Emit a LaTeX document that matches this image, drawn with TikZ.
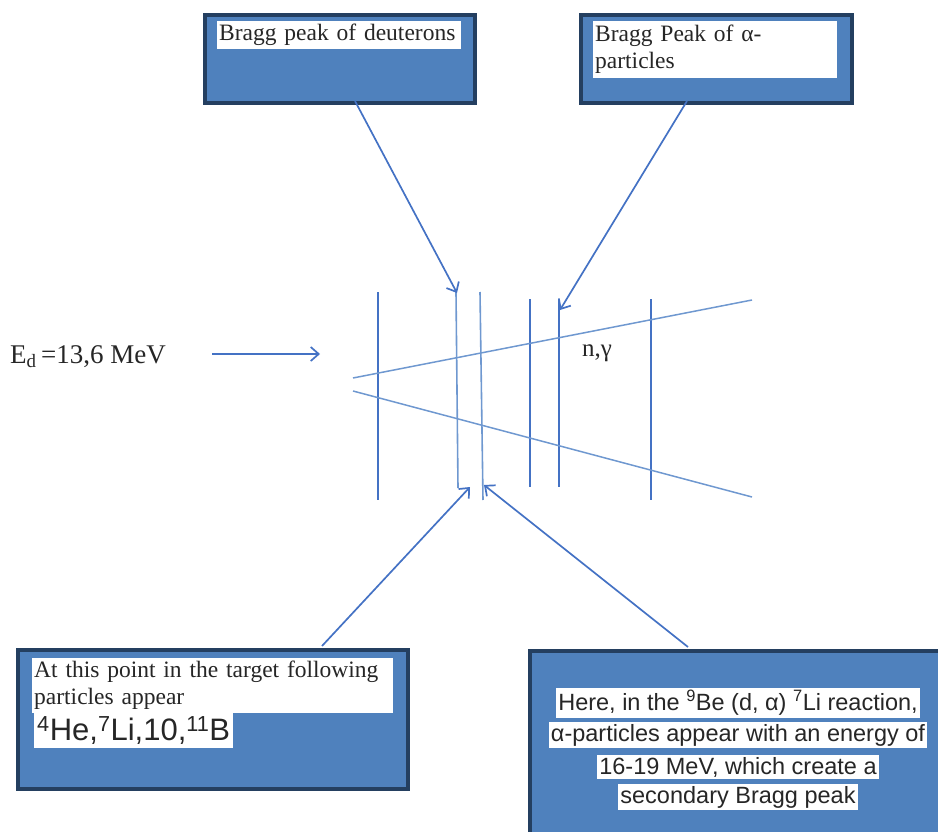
\documentclass[tikz,border=0pt]{standalone}
\usepackage{fontspec}
\setmainfont{Liberation Serif}
\newfontfamily\arialf{Liberation Sans}
\usetikzlibrary{arrows.meta}
\definecolor{boxfill}{HTML}{4F81BD}
\definecolor{boxedge}{HTML}{243F60}
\definecolor{ln}{HTML}{4472C4}
\definecolor{lnlight}{HTML}{6F98D0}
\definecolor{txt}{HTML}{262626}
\begin{document}
\begin{tikzpicture}[x=1pt,y=-1pt,
  outerbox/.style={draw=boxedge,fill=boxfill,line width=4pt,anchor=north west,inner sep=0pt},
  whitebox/.style={fill=white,anchor=north west,inner xsep=2pt,inner ysep=1pt,align=left,text=txt},
  serif/.style={font=\fontsize{23.5}{27}\selectfont},
  sans/.style={font=\arialf\fontsize{23.5}{27}\selectfont},
  conn/.style={draw=ln,line width=1.7pt,-{Straight Barb[length=8pt,width=14pt,line width=1.7pt]}},
  plate/.style={draw=ln,line width=1.9pt},
  plateL/.style={draw=lnlight,line width=1.6pt},
  beam/.style={draw=lnlight,line width=1.5pt}]
\useasboundingbox (0,0) rectangle (938,832);
% boxes
\node[outerbox,minimum width=270pt,minimum height=88pt] (b1) at (203,13) {};
\node[outerbox,minimum width=271pt,minimum height=88pt] (b2) at (579,13) {};
\node[outerbox,minimum width=390pt,minimum height=139pt] (b3) at (16,648) {};
\node[outerbox,minimum width=420pt,minimum height=200pt] (b4) at (528,649) {};
% box texts
\node[whitebox,serif,text width=240pt,minimum height=28pt] (t1) at (217,21) {Bragg peak of deuterons};
\node[whitebox,serif,text width=240pt,minimum height=57pt] (t2) at (593,21) {Bragg Peak of α-\\particles};
\node[whitebox,serif,text width=357pt,minimum height=55pt] (t3) at (32,658) {At this point in the target following\\particles appear};
\node[whitebox,font=\arialf\fontsize{31}{34}\selectfont,inner xsep=3pt,minimum height=36pt,anchor=north west] (t3b) at (34,712) {\textsuperscript{4}He,\textsuperscript{7}Li,10,\textsuperscript{11}B};
\node[fill=white,sans,text=txt,inner xsep=2pt,inner ysep=2pt] (t4a) at (738,703) {Here, in the \textsuperscript{9}Be (d, α) \textsuperscript{7}Li reaction,};
\node[fill=white,sans,text=txt,inner xsep=2pt,inner ysep=2pt] (t4b) at (738,735) {α-particles appear with an energy of};
\node[fill=white,sans,text=txt,inner xsep=2pt,inner ysep=2pt] (t4c) at (738,767) {16-19 MeV, which create a};
\node[fill=white,sans,text=txt,inner xsep=2pt,inner ysep=2pt] (t4d) at (738,797) {secondary Bragg peak};
% Ed label
\node[font=\fontsize{27}{30}\selectfont,text=txt,anchor=base west,inner sep=0pt] (ed) at (10,363) {E\textsubscript{d}\,=13,6 MeV};
\node[font=\fontsize{25}{28}\selectfont,text=txt,inner sep=0pt] (ng) at (597,353) {n,γ};
% plates
\coordinate (p1t) at (378,292); \coordinate (p1b) at (378,500);
\coordinate (p2t) at (456,292); \coordinate (p2b) at (458,488);
\coordinate (p3t) at (480,292); \coordinate (p3b) at (483,500);
\coordinate (p4t) at (530,299); \coordinate (p4b) at (530,487);
\coordinate (p5t) at (559,299); \coordinate (p5b) at (559,487);
\coordinate (p6t) at (651,299); \coordinate (p6b) at (651,500);
\draw[plate] (p1t) -- (p1b);
\draw[plateL] (p2t) -- (p2b);
\draw[plateL] (p3t) -- (p3b);
\draw[plate] (p4t) -- (p4b);
\draw[plate] (p5t) -- (p5b);
\draw[plate] (p6t) -- (p6b);
% beam
\coordinate (u1) at (353,378); \coordinate (u2) at (752,300);
\coordinate (l1) at (353,391); \coordinate (l2) at (752,497);
\draw[beam] (u1) -- (u2);
\draw[beam] (l1) -- (l2);
% connectors
\coordinate (edS) at (212,354); \coordinate (edE) at (320,354);
\draw[conn] (edS) -- (edE);
\coordinate (c1s) at (355,101); \coordinate (c1e) at (457,293);
\draw[conn] (c1s) -- (c1e);
\coordinate (c2s) at (687,101); \coordinate (c2e) at (560,310);
\draw[conn] (c2s) -- (c2e);
\coordinate (c3s) at (322,646); \coordinate (c3e) at (470,487);
\draw[conn] (c3s) -- (c3e);
\coordinate (c4s) at (688,647); \coordinate (c4e) at (484,485);
\draw[conn] (c4s) -- (c4e);
\end{tikzpicture}
\end{document}
